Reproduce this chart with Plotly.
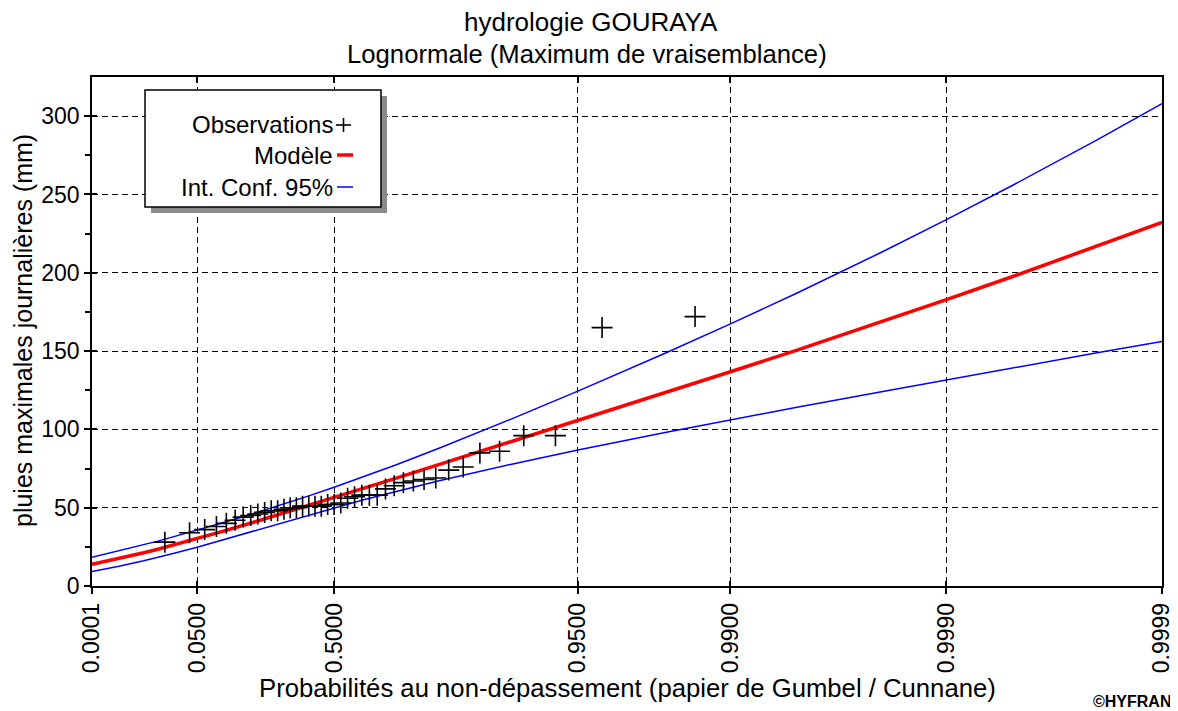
import math
import plotly.graph_objects as go

# ---------------- data ----------------
# Observed daily maximum rainfall (mm), sorted ascending (41 years)
obs_values = [28, 34, 36, 38, 40, 42, 44, 45, 46, 47, 48, 48, 49, 50, 50, 51, 51, 51,
              51, 52, 52, 53, 56, 57, 58, 58, 58, 62, 64, 66, 67, 68, 69, 74, 76, 85,
              86, 96, 96, 165, 172]

# Fitted lognormal model and 95% confidence interval, read at these probabilities
curve_prob = [0.0001, 0.0005, 0.001, 0.005, 0.01, 0.02, 0.05, 0.1, 0.2, 0.3, 0.4, 0.5,
              0.6, 0.7, 0.8, 0.9, 0.95, 0.98, 0.99, 0.995, 0.998, 0.999, 0.9995, 0.9998,
              0.9999]
model_mm = [13.8, 16.2, 17.5, 21.2, 23.3, 25.9, 30.2, 34.7, 41.0, 46.3, 51.3, 56.5,
            62.2, 68.9, 77.8, 92.0, 105.6, 123.3, 136.8, 150.3, 168.6, 182.8, 197.3,
            216.9, 232.1]
ci_low_mm = [9.3, 11.4, 12.6, 16.1, 18.1, 20.6, 24.8, 29.3, 35.5, 40.6, 45.2, 49.9,
             54.9, 60.4, 67.3, 77.6, 86.8, 98.0, 106.2, 114.0, 124.1, 131.7, 139.2,
             148.9, 156.2]
ci_high_mm = [18.3, 21.0, 22.4, 26.3, 28.5, 31.2, 35.6, 40.2, 46.6, 52.0, 57.4, 63.1,
              69.6, 77.4, 88.3, 106.4, 124.4, 148.6, 167.4, 186.6, 213.1, 233.9, 255.4,
              284.9, 308.0]

tick_prob = [0.0001, 0.05, 0.5, 0.95, 0.99, 0.999, 0.9999]
tick_labels = ["0.0001", "0.0500", "0.5000", "0.9500", "0.9900", "0.9990", "0.9999"]
y_ticks = [0, 50, 100, 150, 200, 250, 300]

title_1 = "hydrologie GOURAYA"
title_2 = "Lognormale (Maximum de vraisemblance)"
x_title = "Probabilités au non-dépassement (papier de Gumbel / Cunnane)"
y_title = "pluies maximales journalières (mm)"
legend_names = ["Observations", "Modèle", "Int. Conf. 95%"]

# ---------------- helpers ----------------
def gumbel(p):
    """Gumbel reduced variate (probability paper transform)."""
    return -math.log(-math.log(p))

n = len(obs_values)
obs_prob = [(i - 0.4) / (n + 0.2) for i in range(1, n + 1)]  # Cunnane positions

OFF = 8  # page body margin
W, H = 1178 - OFF, 711 - OFF
L, T = 92 - OFF, 77 - OFF
PW, PH = 1070, 509
R, B = W - L - PW, H - T - PH

def px(x):  # x pixel in window coordinates -> paper
    return (x - OFF - L) / PW

def py(y):
    return (T + PH - (y - OFF)) / PH

FONT = "Liberation Sans, Arial, sans-serif"
xr = [gumbel(tick_prob[0]), gumbel(tick_prob[-1])]
xt = [gumbel(p) for p in tick_prob]

fig = go.Figure()
fig.add_trace(go.Scatter(x=[gumbel(p) for p in curve_prob], y=ci_low_mm, mode="lines",
                         line=dict(color="#0000ff", width=1.5), name=legend_names[2],
                         showlegend=False))
fig.add_trace(go.Scatter(x=[gumbel(p) for p in curve_prob], y=ci_high_mm, mode="lines",
                         line=dict(color="#0000ff", width=1.5), name=legend_names[2],
                         showlegend=False))
fig.add_trace(go.Scatter(x=[gumbel(p) for p in curve_prob], y=model_mm, mode="lines",
                         line=dict(color="#ff0000", width=3.5), name=legend_names[1],
                         showlegend=False))
fig.add_trace(go.Scatter(x=[gumbel(p) for p in obs_prob], y=obs_values, mode="markers",
                         marker=dict(symbol="cross-thin", size=15,
                                     line=dict(color="black", width=1.6)),
                         name=legend_names[0], showlegend=False))
# dummy traces for overlay axes (inside ticks)
fig.add_trace(go.Scatter(x=[], y=[], xaxis="x2", yaxis="y", showlegend=False))
fig.add_trace(go.Scatter(x=[], y=[], xaxis="x3", yaxis="y2", showlegend=False))

grid = dict(showgrid=True, gridcolor="black", gridwidth=1, griddash="6px,4px")
fig.update_layout(
    width=W, height=H,
    margin=dict(l=L, r=R, t=T, b=B, autoexpand=False),
    paper_bgcolor="white", plot_bgcolor="white",
    font=dict(family=FONT, size=23, color="black"),
    xaxis=dict(range=xr, tickmode="array", tickvals=xt, ticktext=tick_labels,
               tickangle=-90, ticks="outside", ticklen=6, tickwidth=1.5, tickcolor="black",
               showline=True, linecolor="black", linewidth=1.5, mirror=True,
               zeroline=False, tickfont=dict(size=23), **grid),
    xaxis2=dict(range=xr, overlaying="x", side="bottom", anchor="y", tickmode="array",
                tickvals=xt, ticks="inside", ticklen=5, tickwidth=1.5, tickcolor="black",
                showticklabels=False, showgrid=False, zeroline=False, showline=False),
    xaxis3=dict(range=xr, overlaying="x", side="top", anchor="y", tickmode="array",
                tickvals=xt, ticks="inside", ticklen=6, tickwidth=1.5, tickcolor="black",
                showticklabels=False, showgrid=False, zeroline=False, showline=False),
    yaxis=dict(range=[0, 325], tickmode="array", tickvals=y_ticks, ticks="outside",
               ticklen=6, tickwidth=1.5, tickcolor="black", showline=True,
               linecolor="black", linewidth=1.5, mirror=True, zeroline=False,
               tickfont=dict(size=23),
               minor=dict(tickmode="array", tickvals=[25, 75, 125, 175, 225, 275],
                          ticks="outside", ticklen=5, tickwidth=1.5, tickcolor="black",
                          showgrid=False),
               **grid),
    yaxis2=dict(range=[0, 325], overlaying="y", side="left", anchor="x",
                tickmode="array", tickvals=y_ticks, ticks="inside", ticklen=5,
                tickwidth=1.5, tickcolor="black", showticklabels=False,
                showgrid=False, zeroline=False, showline=False),
    showlegend=False,
)

ann = []
ann.append(dict(text=title_1, x=px(591), y=py(22), xref="paper", yref="paper",
                showarrow=False, font=dict(size=26), xanchor="center", yanchor="middle"))
ann.append(dict(text=title_2, x=px(587), y=py(54), xref="paper", yref="paper",
                showarrow=False, font=dict(size=25.7), xanchor="center", yanchor="middle"))
ann.append(dict(text=x_title, x=px(627), y=py(688), xref="paper", yref="paper",
                showarrow=False, font=dict(size=25.7), xanchor="center", yanchor="middle"))
ann.append(dict(text=y_title, x=px(23), y=py(331), xref="paper", yref="paper",
                showarrow=False, font=dict(size=25), textangle=-90,
                xanchor="center", yanchor="middle"))
ann.append(dict(text="<b>©HYFRAN</b>", x=px(1173), y=py(702), xref="paper", yref="paper",
                showarrow=False, font=dict(size=16), xanchor="right", yanchor="middle"))

# custom legend (text right-aligned, symbol on the right)
shapes = []
shapes.append(dict(type="rect", xref="paper", yref="paper", x0=px(151), x1=px(387),
                   y0=py(213), y1=py(96), fillcolor="#8a8a8a", line=dict(width=0),
                   layer="above"))
shapes.append(dict(type="rect", xref="paper", yref="paper", x0=px(145), x1=px(381),
                   y0=py(207), y1=py(90), fillcolor="white",
                   line=dict(color="black", width=1.5), layer="above"))
for txt, yy in zip(legend_names, [125, 155, 187]):
    ann.append(dict(text=txt, x=px(335), y=py(yy), xref="paper", yref="paper",
                    showarrow=False, font=dict(size=24), xanchor="right",
                    yanchor="middle"))
shapes.append(dict(type="line", xref="paper", yref="paper", x0=px(336), x1=px(351),
                   y0=py(125), y1=py(125), line=dict(color="black", width=1.6),
                   layer="above"))
shapes.append(dict(type="line", xref="paper", yref="paper", x0=px(343.5), x1=px(343.5),
                   y0=py(118), y1=py(132), line=dict(color="black", width=1.6),
                   layer="above"))
shapes.append(dict(type="line", xref="paper", yref="paper", x0=px(337), x1=px(353),
                   y0=py(155), y1=py(155), line=dict(color="#ff0000", width=3.5),
                   layer="above"))
shapes.append(dict(type="line", xref="paper", yref="paper", x0=px(337), x1=px(353),
                   y0=py(187), y1=py(187), line=dict(color="#0000ff", width=1.5),
                   layer="above"))
fig.update_layout(annotations=ann, shapes=shapes)

fig.write_html("out.html")
